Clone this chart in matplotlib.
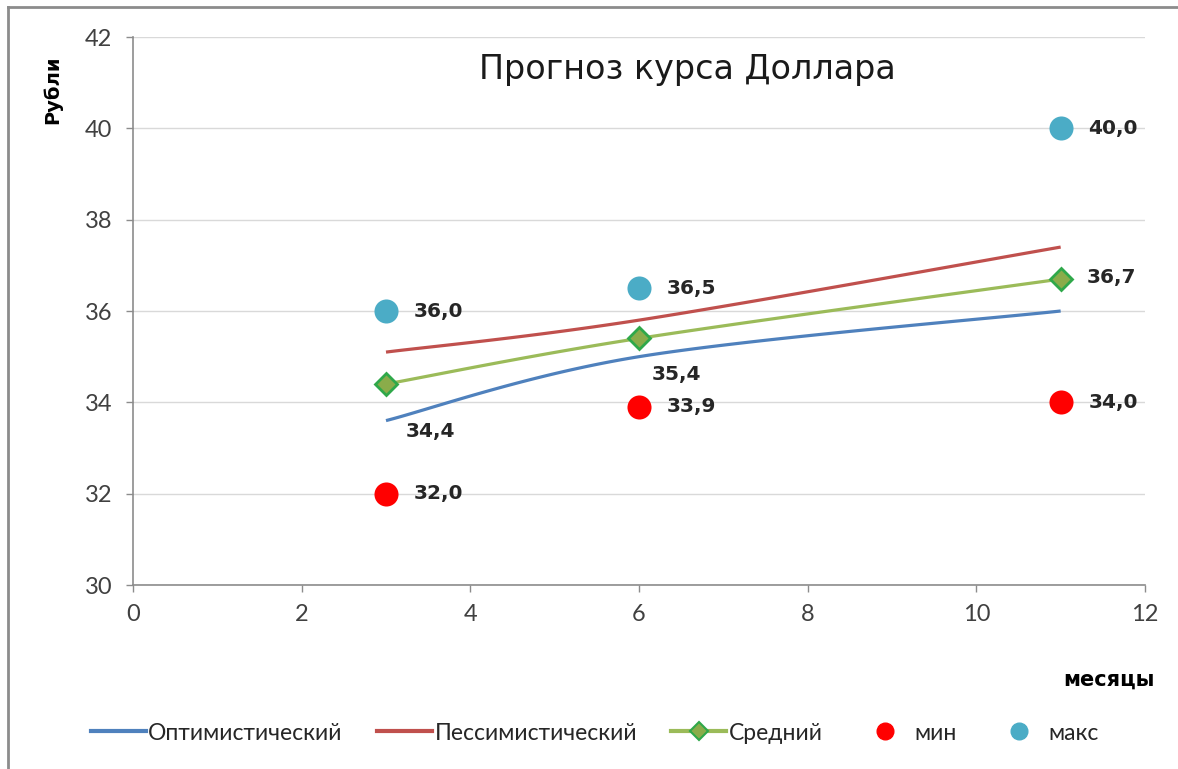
import numpy as np
import matplotlib
matplotlib.use('Agg')
import matplotlib.pyplot as plt
from matplotlib.lines import Line2D

# data
months = [3, 6, 11]
optimistic = [33.6, 35.0, 36.0]
pessimistic = [35.1, 35.8, 37.4]
average = [34.4, 35.4, 36.7]
min_vals = [32.0, 33.9, 34.0]
max_vals = [36.0, 36.5, 40.0]

x_ticks = [0, 2, 4, 6, 8, 10, 12]
y_ticks = [30, 32, 34, 36, 38, 40, 42]

title = 'Прогноз курса Доллара'
x_label = 'месяцы'
y_label = 'Рубли'
series_names = ['Оптимистический', 'Пессимистический', 'Средний', 'мин', 'макс']

C_BLUE = '#4f81bd'
C_RED = '#c0504d'
C_GREEN = '#9bbb59'
C_MIN = '#ff0000'
C_MAX = '#4bacc6'

SANS = ['Lato', 'DejaVu Sans']


def smooth(xs, ys, n=60):
    # Excel-like smoothed line: Catmull-Rom segments drawn as cubic Bezier
    p = np.column_stack([xs, ys]).astype(float)
    p_ext = np.vstack([p[0], p, p[-1]])
    out = []
    t = np.linspace(0, 1, n)[:, None]
    for i in range(len(p) - 1):
        p0, p1, p2, p3 = p_ext[i], p_ext[i + 1], p_ext[i + 2], p_ext[i + 3]
        b1 = p1 + (p2 - p0) / 6
        b2 = p2 - (p3 - p1) / 6
        seg = ((1 - t) ** 3) * p1 + 3 * ((1 - t) ** 2) * t * b1 + 3 * (1 - t) * t ** 2 * b2 + t ** 3 * p2
        out.append(seg if i == 0 else seg[1:])
    seg = np.vstack(out)
    return seg[:, 0], seg[:, 1]


def fmt(v):
    return f'{v:.1f}'.replace('.', ',')


def main():
    fig = plt.figure(figsize=(11.78, 7.69), dpi=100)
    ax = fig.add_axes([133 / 1178, 1 - 585 / 769, (1145 - 133) / 1178, (585 - 37) / 769])

    # outer frame of the chart area (only top and left edges are visible)
    fig.add_artist(Line2D([8 / 1178, 8 / 1178], [0, 1 - 7 / 769], transform=fig.transFigure,
                          color='#8c8c8c', lw=2))
    fig.add_artist(Line2D([8 / 1178, 1], [1 - 7 / 769, 1 - 7 / 769], transform=fig.transFigure,
                          color='#8c8c8c', lw=2))

    xs, ys = smooth(months, optimistic)
    ax.plot(xs, ys, color=C_BLUE, lw=2.3, solid_capstyle='butt', zorder=3)
    xs, ys = smooth(months, pessimistic)
    ax.plot(xs, ys, color=C_RED, lw=2.3, solid_capstyle='butt', zorder=3)
    xs, ys = smooth(months, average)
    ax.plot(xs, ys, color=C_GREEN, lw=2.3, solid_capstyle='butt', zorder=3)
    ax.plot(months, average, ls='none', marker='D', ms=11, mfc='#8aac4a', mec='#2fa84a',
            mew=2, zorder=4)

    ax.scatter(months, min_vals, s=300, color=C_MIN, zorder=5, linewidths=0)
    ax.scatter(months, max_vals, s=300, color=C_MAX, zorder=5, linewidths=0)

    lbl = dict(fontsize=14.5, fontweight='bold', color='#262626', family=['DejaVu Sans'],
               textcoords='offset points', va='center', ha='left')
    for x, v in zip(months, min_vals):
        ax.annotate(fmt(v), (x, v), xytext=(20, 0), **lbl)
    for x, v in zip(months, max_vals):
        ax.annotate(fmt(v), (x, v), xytext=(20, 0), **lbl)
    # labels of the average line
    offsets = [(14, -34), (9, -26), (19, 1)]
    for x, v, off in zip(months, average, offsets):
        ax.annotate(fmt(v), (x, v), xytext=off, **lbl)

    ax.set_xlim(x_ticks[0], x_ticks[-1])
    ax.set_ylim(y_ticks[0], y_ticks[-1])
    ax.set_xticks(x_ticks)
    ax.set_yticks(y_ticks)
    ax.grid(axis='y', color='#d9d9d9', lw=1)
    ax.set_axisbelow(True)
    for s in ['top', 'right']:
        ax.spines[s].set_visible(False)
    for s in ['left', 'bottom']:
        ax.spines[s].set_color('#8c8c8c')
        ax.spines[s].set_linewidth(1.2)
    ax.tick_params(axis='both', colors='#8c8c8c', labelcolor='#404040', labelsize=17,
                   length=5, width=1)
    ax.tick_params(axis='y', pad=10)
    ax.tick_params(axis='x', pad=9)
    for t in ax.get_xticklabels() + ax.get_yticklabels():
        t.set_family(SANS)

    fig.text(687 / 1178, 1 - 70 / 769, title, fontsize=24, ha='center', va='center',
             color='#1a1a1a', family=['DejaVu Sans'])
    fig.text(52 / 1178, 1 - 90 / 769, y_label, rotation=90, fontsize=14, fontweight='bold',
             ha='center', va='center', family=['DejaVu Sans'])
    fig.text(1109 / 1178, 1 - 680 / 769, x_label, fontsize=15, fontweight='bold',
             ha='center', va='center', family=['DejaVu Sans'])

    handles = [
        Line2D([], [], color=C_BLUE, lw=3),
        Line2D([], [], color=C_RED, lw=3),
        Line2D([], [], color=C_GREEN, lw=3, marker='D', ms=9, mfc='#8aac4a', mec='#2fa84a', mew=1.5),
        Line2D([], [], ls='none', marker='o', ms=12, color=C_MIN),
        Line2D([], [], ls='none', marker='o', ms=12, color=C_MAX),
    ]
    fig.legend(handles, series_names, loc='center', bbox_to_anchor=(0.505, 1 - 733 / 769),
               ncol=5, frameon=False, handlelength=2.4, handletextpad=0.1, columnspacing=1.5,
               prop={'family': SANS, 'size': 16.5}, labelcolor='#262626')

    fig.savefig('out.png', dpi=100)


if __name__ == '__main__':
    main()
